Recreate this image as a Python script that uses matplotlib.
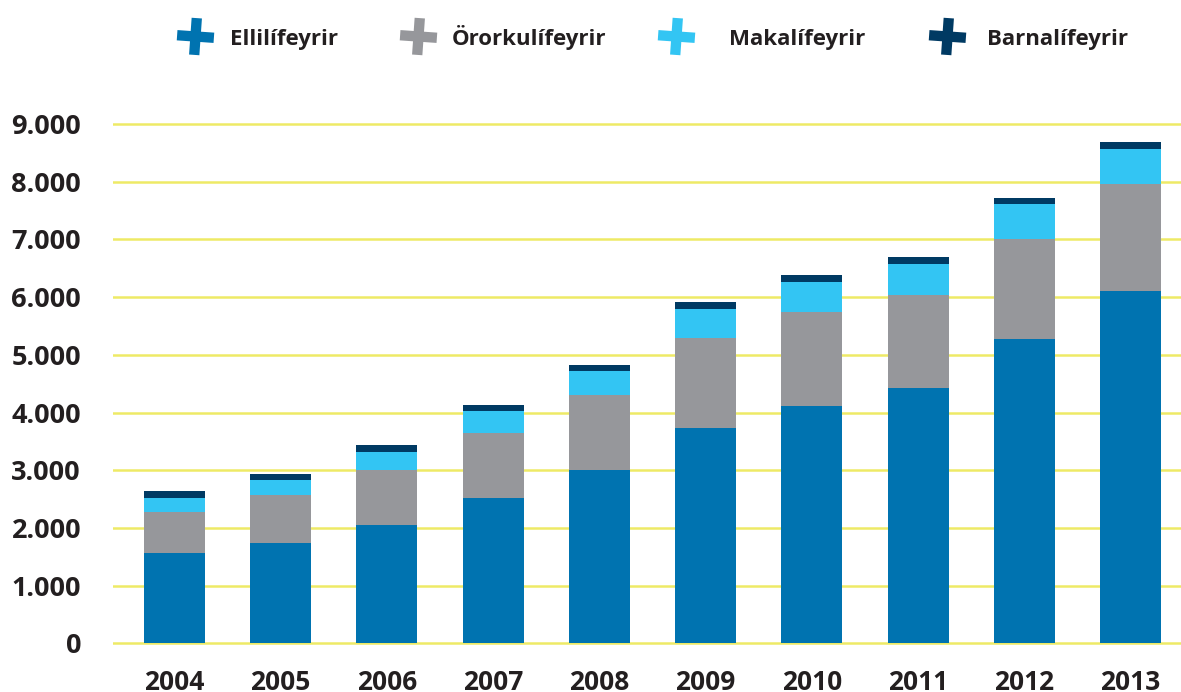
import matplotlib
matplotlib.use("Agg")
import matplotlib.pyplot as plt
import numpy as np
from matplotlib.ticker import FuncFormatter
from matplotlib.path import Path

years = ["2004", "2005", "2006", "2007", "2008", "2009", "2010", "2011", "2012", "2013"]
ellilifeyrir = [1566, 1739, 2051, 2519, 3004, 3732, 4113, 4425, 5274, 6106]
ororkulifeyrir = [711, 832, 958, 1126, 1300, 1559, 1629, 1611, 1732, 1858]
makalifeyrir = [242, 260, 307, 381, 415, 503, 519, 537, 607, 601]
barnalifeyrir = [122, 104, 121, 104, 104, 121, 122, 121, 104, 122]
series_names = ["Ellilífeyrir", "Örorkulífeyrir", "Makalífeyrir", "Barnalífeyrir"]
yticks = [0, 1000, 2000, 3000, 4000, 5000, 6000, 7000, 8000, 9000]

colors = ["#0073B0", "#96979B", "#33C5F3", "#003A63"]
text_color = "#231F20"
grid_color = "#EEEA66"
plt.rcParams['font.family'] = ['Open Sans', 'DejaVu Sans']

W, H = 1181, 692
fig = plt.figure(figsize=(W / 100, H / 100), dpi=100)
left_px, right_px = 113, 1181
ylo, yhi = -100, 9100
zero_px, px_per = 643.4, 0.05772
bottom_px = zero_px + (0 - ylo) * px_per
top_px = zero_px - yhi * px_per
ax = fig.add_axes([left_px / W, (H - bottom_px) / H, (right_px - left_px) / W, (bottom_px - top_px) / H])

x = np.arange(len(years))
data = [ellilifeyrir, ororkulifeyrir, makalifeyrir, barnalifeyrir]
bottom = np.zeros(len(years))
for vals, c, name in zip(data, colors, series_names):
    ax.bar(x, vals, width=0.575, bottom=bottom, color=c, label=name, zorder=3, linewidth=0)
    bottom += np.array(vals)

for t in yticks:
    ax.axhline(t, color=grid_color, lw=1.8, zorder=1)

ax.set_ylim(ylo, yhi)
spacing = 106.22
ax.set_xlim(-(174.5 - left_px) / spacing, (right_px - 174.5) / spacing)
ax.set_yticks(yticks)
ax.yaxis.set_major_formatter(FuncFormatter(lambda v, p: f"{int(v):,}".replace(",", ".")))
ax.set_xticks(x)
ax.set_xticklabels(years)
ax.tick_params(axis='y', length=0, pad=23, labelsize=19.5, labelcolor=text_color)
ax.tick_params(axis='x', length=0, pad=14.5, labelsize=19, labelcolor=text_color)
for lab in ax.get_xticklabels() + ax.get_yticklabels():
    lab.set_fontweight('bold')
for s in ax.spines.values():
    s.set_visible(False)

# legend: slightly rotated plus-shaped markers
a, b = 1.0, 0.28
pts = np.array([(-b, a), (b, a), (b, b), (a, b), (a, -b), (b, -b), (b, -a),
                (-b, -a), (-b, -b), (-a, -b), (-a, b), (-b, b), (-b, a)])
ang = np.deg2rad(-4)
rot = np.array([[np.cos(ang), -np.sin(ang)], [np.sin(ang), np.cos(ang)]])
pts = pts @ rot.T
cross = Path(pts, closed=True)

marker_x = [195, 418, 676, 947]
text_x = [230, 452, 729, 987]
my = 36
baseline = 45.5
for mx, tx, c, name in zip(marker_x, text_x, colors, series_names):
    fig.lines.append(plt.Line2D([mx / W], [1 - my / H], marker=cross, markersize=27,
                                color=c, markeredgewidth=0, transform=fig.transFigure,
                                linestyle='none'))
    fig.text(tx / W, 1 - baseline / H, name, ha='left', va='baseline', fontsize=16,
             fontweight='bold', color=text_color)

fig.savefig("out.png", dpi=100)
